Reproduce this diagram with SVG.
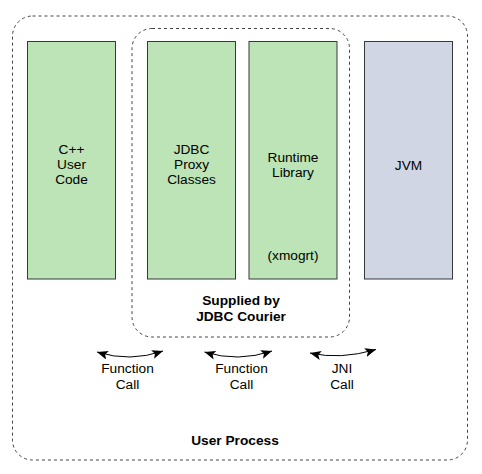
<svg xmlns="http://www.w3.org/2000/svg" width="482" height="474" viewBox="0 0 482 474">
<style>
.box{stroke:#36393d;stroke-width:1}
.g{fill:#bce4b6}
.b{fill:#d0d6e4}
.dash{fill:none;stroke:#444;stroke-width:1;stroke-dasharray:3 3}
text{font-family:"Liberation Sans",Arial,sans-serif;font-size:13.7px;fill:#000;text-anchor:middle}
.bold{font-weight:bold}
.conn{fill:none;stroke:#000;stroke-width:1}
</style>
<defs>
<marker id="ah" viewBox="0 0 11 9" refX="11" refY="4.5" markerWidth="11" markerHeight="9" markerUnits="userSpaceOnUse" orient="auto-start-reverse">
<path d="M0 0 L11 4.5 L0 9 L2.5 4.5 Z" fill="#000"/>
</marker>
</defs>
<rect fill="#fff" width="482" height="474"/>
<g id="user-process">
<rect class="dash" x="12.5" y="16" width="455" height="444" rx="20"/>
<text class="bold" x="235" y="445">User Process</text>
</g>
<g id="jdbc-courier">
<rect class="dash" x="132" y="28.5" width="217.5" height="308.5" rx="20"/>
<text class="bold" x="241" y="305">Supplied by</text>
<text class="bold" x="241" y="321">JDBC Courier</text>
</g>
<g id="cpp-user-code">
<rect class="box g" x="27.5" y="41.5" width="88" height="237.5"/>
<text x="71.5" y="154">C++</text>
<text x="71.5" y="169">User</text>
<text x="71.5" y="184">Code</text>
</g>
<g id="jdbc-proxy">
<rect class="box g" x="147.5" y="41.5" width="88" height="237.5"/>
<text x="191.5" y="154">JDBC</text>
<text x="191.5" y="169">Proxy</text>
<text x="191.5" y="184">Classes</text>
</g>
<g id="runtime-library">
<rect class="box g" x="249" y="41.5" width="88" height="237.5"/>
<text x="293" y="161.5">Runtime</text>
<text x="293" y="176.5">Library</text>
<text x="293" y="260">(xmogrt)</text>
</g>
<g id="jvm">
<rect class="box b" x="364.5" y="41.5" width="88" height="237.5"/>
<text x="408.5" y="170">JVM</text>
</g>
<g id="connectors">
<path class="conn" d="M97 352 Q130 362.5 163 351" marker-start="url(#ah)" marker-end="url(#ah)"/>
<path class="conn" d="M204.5 352 Q238 362.5 272 351" marker-start="url(#ah)" marker-end="url(#ah)"/>
<path class="conn" d="M310 353 Q340 360 376 349.5" marker-start="url(#ah)" marker-end="url(#ah)"/>
<text x="127.5" y="373">Function</text>
<text x="127.5" y="389">Call</text>
<text x="241.5" y="373">Function</text>
<text x="241.5" y="389">Call</text>
<text x="342" y="373">JNI</text>
<text x="342" y="389">Call</text>
</g>
</svg>
